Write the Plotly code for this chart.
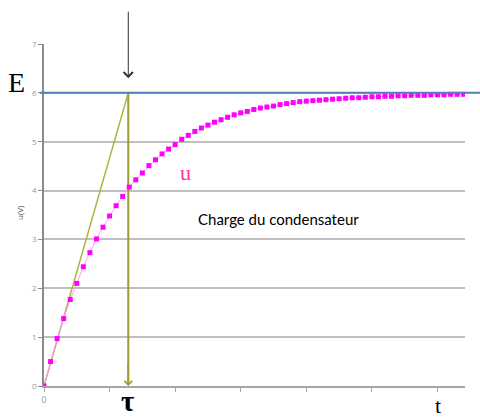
import plotly.graph_objects as go

# --- data ---
k_index = list(range(0, 65))
u_values = [0.00, 0.50, 0.97, 1.38, 1.77, 2.10, 2.44, 2.73, 3.01, 3.25,
            3.48, 3.69, 3.88, 4.07, 4.22, 4.36, 4.51, 4.63, 4.75, 4.85,
            4.94, 5.05, 5.13, 5.21, 5.28, 5.34, 5.40, 5.45, 5.50, 5.55,
            5.59, 5.62, 5.66, 5.69, 5.71, 5.73, 5.76, 5.78, 5.80, 5.82,
            5.83, 5.84, 5.85, 5.86, 5.87, 5.88, 5.89, 5.90, 5.90, 5.91,
            5.92, 5.92, 5.93, 5.93, 5.94, 5.94, 5.95, 5.95, 5.95, 5.96,
            5.96, 5.96, 5.97, 5.97, 5.97]
E_value = 6
tau_value = 12.85
y_ticks = [0, 1, 2, 3, 4, 5, 6, 7]
x_ticks = [0, 10, 20, 30, 40, 50, 60]
x_tick_text = ["0", "", "", "", "", "", ""]

OLIVE = "#9c9c2c"
L, R, T, B = 44, 15, 44, 32
W, H = 480 - L - R, 418 - T - B

fig = go.Figure()

# tangent at origin
fig.add_trace(go.Scatter(x=[0, tau_value], y=[0, E_value], mode="lines",
                         line=dict(color="#b0b040", width=1.5),
                         hoverinfo="skip", showlegend=False))
# vertical line at tau
fig.add_trace(go.Scatter(x=[tau_value, tau_value], y=[E_value, 0.05], mode="lines",
                         line=dict(color=OLIVE, width=2),
                         hoverinfo="skip", showlegend=False))
# charge curve
fig.add_trace(go.Scatter(x=k_index, y=u_values, mode="lines+markers",
                         line=dict(color="#ff99ff", width=1),
                         marker=dict(symbol="square", size=5, color="#ff00ff"),
                         showlegend=False))

# E horizontal line (extends past the plot)
fig.add_shape(type="line", xref="paper", yref="y", x0=-0.01, x1=1.04,
              y0=E_value, y1=E_value, line=dict(color="#4f81bd", width=2),
              layer="above")

# arrow head of vertical tau line
fig.add_annotation(x=tau_value, y=0, ax=tau_value, ay=0.5, xref="x", yref="y",
                   axref="x", ayref="y", showarrow=True, arrowhead=4,
                   arrowsize=1.0, arrowwidth=1.5, arrowcolor=OLIVE, text="")
# black arrow from top
fig.add_annotation(x=tau_value, y=6.3, ax=0, ay=-68, xref="x", yref="y",
                   showarrow=True, arrowhead=4, arrowsize=1.8, arrowwidth=1,
                   arrowcolor="#333333", text="")

serif = "Liberation Serif, DejaVu Serif, serif"

def pa(x, y, text, size, color, fam, angle=0):
    fig.add_annotation(x=(x - L) / W, y=(418 - B - y) / H, xref="paper", yref="paper",
                       xanchor="center", yanchor="middle", text=text,
                       showarrow=False, textangle=angle,
                       font=dict(family=fam, size=size, color=color))

pa(16, 82, "E", 28, "black", serif)
pa(185, 172, "u", 22, "#ff3399", serif)
pa(278, 219, "Charge du condensateur", 15, "black", "Lato, Open Sans, sans-serif")
pa(128, 401, "<b>τ</b>", 29, "black", serif)
pa(438, 405, "t", 22, "black", serif)
pa(20, 213, "u(V)", 8, "#555555", "Open Sans, sans-serif", angle=-90)

fig.update_layout(
    width=480, height=418,
    margin=dict(l=L, r=R, t=T, b=B),
    plot_bgcolor="white", paper_bgcolor="white",
    xaxis=dict(range=[0, 64.2], tickvals=x_ticks, ticktext=x_tick_text,
               showgrid=False, zeroline=False, showline=True,
               linecolor="#a6a6a6", linewidth=1.5, ticks="outside",
               ticklen=4, tickcolor="#a6a6a6",
               tickfont=dict(size=9, color="#999999", family="Open Sans")),
    yaxis=dict(range=[0, 7], tickvals=y_ticks, showgrid=True,
               gridcolor="#bfbfbf", gridwidth=1.5, zeroline=False,
               showline=True, linecolor="#8c8c8c", linewidth=1.5,
               ticks="outside", ticklen=4, tickcolor="#8c8c8c",
               tickfont=dict(size=8, color="#999999", family="Open Sans")),
)

fig.write_html("out.html")
